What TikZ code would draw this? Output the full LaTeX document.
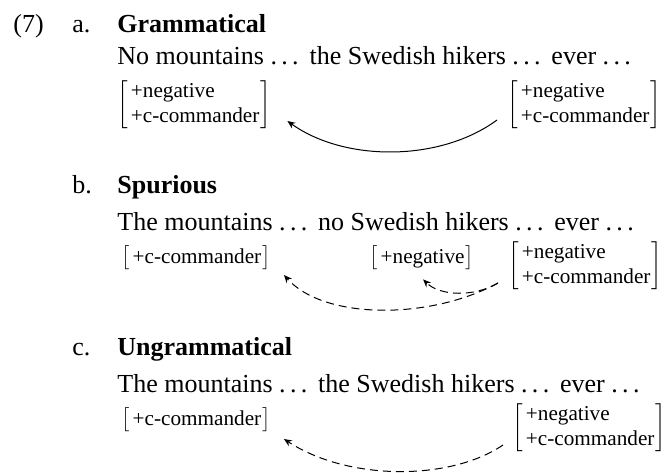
\documentclass[tikz,border=0pt]{standalone}
\usepackage{fontspec}
\setmainfont{Liberation Serif}
\usetikzlibrary{arrows.meta, positioning}
\newcommand{\featmat}[1]{$\left[\begin{tabular}{@{\hspace{1.5pt}}l@{\hspace{0.5pt}}}#1\end{tabular}\right]$}
\newcommand{\dotsgap}{.\kern0.167em.\kern0.167em.\kern0.167em}
\tikzset{
  lbl/.style = {inner sep=0pt, anchor=base west, font=\fontsize{13}{15.6}\selectfont},
  feat/.style = {inner sep=0pt, anchor=west, font=\fontsize{10.6}{12.5}\selectfont},
  arr/.style = {-{Stealth[length=4pt,width=3.4pt,inset=1.4pt]}, line width=0.5pt}
}

\begin{document}
\begin{tikzpicture}[x=0.5pt, y=-0.5pt]
\tikzset{
  darr/.style = {arr, dash pattern=on 4pt off 2.5pt}
}
\useasboundingbox (0,0) rectangle (669,472);

% Example (7a)
\node[lbl] (exnum) at (13,32) {(7)};
\node[lbl] (la) at (72,32) {a.};
\node[lbl, font=\fontsize{13}{15.6}\selectfont\bfseries] (ta) at (117,32) {Grammatical};
\node[lbl] (sa) at (117,64) {No mountains \dotsgap\ the Swedish hikers \dotsgap\ ever \dotsgap};
\node[feat] (aL) at (117,105) {\featmat{+negative\\+c-commander}};
\node[feat] (aR) at (507,105) {\featmat{+negative\\+c-commander}};

% Example (7b)
\node[lbl] (lb) at (72,193) {b.};
\node[lbl, font=\fontsize{13}{15.6}\selectfont\bfseries] (tb) at (117,193) {Spurious};
\node[lbl] (sb) at (117,230) {The mountains \dotsgap\ no Swedish hikers \dotsgap\ ever \dotsgap};
\node[feat] (bL) at (121,258) {\featmat{+c-commander}};
\node[feat] (bN) at (369,258) {\featmat{+negative}};
\node[feat] (bR) at (508,266) {\featmat{+negative\\+c-commander}};

% Example (7c)
\node[lbl] (lc) at (72,355) {c.};
\node[lbl, font=\fontsize{13}{15.6}\selectfont\bfseries] (tc) at (117,355) {Ungrammatical};
\node[lbl] (sc) at (117,392) {The mountains \dotsgap\ the Swedish hikers \dotsgap\ ever \dotsgap};
\node[feat] (cL) at (121,420) {\featmat{+c-commander}};
\node[feat] (cR) at (512,428) {\featmat{+negative\\+c-commander}};

% ----- ARROWS -----
% (a) licit checking
\draw[arr] ([shift={(-10,15)}]aR.west) .. controls +(-57,42) and +(57,41) .. ([shift={(16,16)}]aL.east);
% (b) spurious checking
\draw[darr] ([shift={(-10,17)}]bR.west) .. controls +(-23,14) and +(17,17) .. ([shift={(1.5,8.5)}]bN.south);
\draw[darr] ([shift={(-10,17)}]bR.west) .. controls +(-68,37) and +(40,45) .. ([shift={(13,17)}]bL.east);
% (c) failed checking
\draw[darr] ([shift={(-9,17)}]cR.west) .. controls +(-53,36) and +(64,42) .. ([shift={(13,19)}]cL.east);

\end{tikzpicture}
\end{document}
